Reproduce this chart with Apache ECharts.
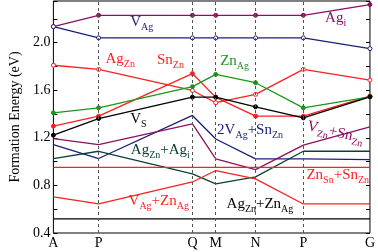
<!DOCTYPE html>
<html>
<head>
<meta charset="utf-8">
<script src="https://cdn.jsdelivr.net/npm/echarts@6/dist/echarts.min.js"></script>
<style>
  html, body { margin: 0; padding: 0; background: #fff; }
  #main { width: 378px; height: 252px; }
</style>
</head>
<body>
<div id="main"></div>
<script>
var myChart = echarts.init(document.getElementById('main'));

// k-path positions and their labels
var kpos = [0, 47.7, 146.7, 171.3, 213.3, 263.7, 334];
var knames = ['A', 'P', 'Q', 'M', 'N', 'P', 'G'];

// formation energies (eV) at each k point
var agI     = [2.135, 2.23, 2.23, 2.23, 2.23, 2.23, 2.32];
var vAg     = [2.135, 2.04, 2.04, 2.04, 2.04, 2.04, 1.95];
var agZn    = [1.81, 1.775, 1.598, 1.495, 1.565, 1.775, 1.685];
var snZn    = [1.298, 1.382, 1.74, 1.54, 1.382, 1.382, 1.55];
var znAg    = [1.41, 1.452, 1.63, 1.733, 1.663, 1.452, 1.545];
var vS      = [1.222, 1.362, 1.542, 1.542, 1.461, 1.368, 1.545];
var v2AgSn  = [1.143, 1.026, 1.388, 1.19, 1.023, 1.023, 1.017];
var vZnSn   = [1.194, 1.143, 1.318, 1.023, 0.933, 1.138, 1.293];
var agZnAgI = [1.026, 1.087, 0.897, 0.813, 0.872, 1.087, 1.087];
var znSnSn  = [0.952, 0.952, 0.952, 0.952, 0.952, 0.952, 0.952];
var vAgZnAg = [0.703, 0.644, 0.829, 0.925, 0.855, 0.644, 0.644];
var agZnZnAg = [0.518, 0.518, 0.518, 0.518, 0.518, 0.518, 0.518];

// label text and anchor in data units [x, y, color, rotation]
var labels = [
    ['{m|V}{s|Ag}', 81, 2.16, '#1b1f7a', 0],
    ['{m|Ag}{s|i}', 286.7, 2.196, '#8b1062', 0],
    ['{m|Ag}{s|Zn}', 55, 1.851, '#ff1f1f', 0],
    ['{m|Sn}{s|Zn}', 109.3, 1.845, '#ff1f1f', 0],
    ['{m|Zn}{s|Ag}', 176, 1.834, '#1a961a', 0],
    ['{m|V}{s|S}', 81, 1.345, '#000000', 0],
    ['{m|2V}{s|Ag}{m|+Sn}{s|Zn}', 172.7, 1.256, '#1b1f7a', 0],
    ['{m|V}{s|Zn}{m|+Sn}{s|Zn}', 267.7, 1.287, '#8b1062', 13],
    ['{m|Ag}{s|Zn}{m|+Ag}{s|i}', 81.7, 1.085, '#0d4035', 0],
    ['{m|Zn}{s|Sn}{m|+Sn}{s|Zn}', 267, 0.874, '#ff1f1f', 0],
    ['{m|V}{s|Ag}{m|+Zn}{s|Ag}', 79.3, 0.655, '#ff1f1f', 0],
    ['{m|Ag}{s|Zn}{m|+Zn}{s|Ag}', 182.7, 0.63, '#000000', 0]
];

function pairs(vals) {
    return vals.map(function (v, i) { return [kpos[i], v]; });
}

function makeLine(name, vals, color, marker, hollow) {
    return {
        name: name,
        type: 'line',
        data: pairs(vals),
        symbol: marker ? 'circle' : 'none',
        symbolSize: 4,
        showSymbol: !!marker,
        itemStyle: {
            color: hollow ? '#fff' : color,
            borderColor: color,
            borderWidth: 1
        },
        lineStyle: { color: color, width: 1.3 },
        animation: false,
        z: 3
    };
}

var serifFont = '"Liberation Serif", "DejaVu Serif", serif';

var series = [
    makeLine('Ag_i', agI, '#8b1062', true, false),
    makeLine('V_Ag', vAg, '#1b1f7a', true, true),
    makeLine('Ag_Zn', agZn, '#ff1f1f', true, true),
    makeLine('Sn_Zn', snZn, '#ff1f1f', true, false),
    makeLine('Zn_Ag', znAg, '#1a961a', true, false),
    makeLine('V_S', vS, '#000000', true, false),
    makeLine('2V_Ag+Sn_Zn', v2AgSn, '#1b1f7a', false),
    makeLine('V_Zn+Sn_Zn', vZnSn, '#8b1062', false),
    makeLine('Ag_Zn+Ag_i', agZnAgI, '#0d4035', false),
    makeLine('Zn_Sn+Sn_Zn', znSnSn, '#ff1f1f', false),
    makeLine('V_Ag+Zn_Ag', vAgZnAg, '#ff1f1f', false),
    makeLine('Ag_Zn+Zn_Ag', agZnZnAg, '#000000', false)
];

// dashed vertical lines at the inner k points
series[0].markLine = {
    silent: true,
    symbol: 'none',
    label: { show: false },
    lineStyle: { color: '#555', type: [3, 3], width: 1 },
    data: kpos.slice(1, 6).map(function (x) { return { xAxis: x }; })
};

var option = {
    backgroundColor: '#fff',
    animation: false,
    grid: {
        left: 39, right: 5, top: 1, bottom: 19,
        show: true, borderColor: '#000', borderWidth: 1,
        backgroundColor: 'transparent'
    },
    xAxis: {
        type: 'value',
        min: 0,
        max: 334,
        axisLine: { show: false },
        splitLine: { show: false },
        axisTick: { show: false },
        axisLabel: {
            customValues: kpos,
            formatter: function (v) {
                var i = kpos.indexOf(v);
                return i >= 0 ? knames[i] : '';
            },
            color: '#000',
            fontSize: 14,
            fontFamily: serifFont,
            margin: 3
        }
    },
    yAxis: [{
        type: 'value',
        min: 0.4,
        max: 2.35,
        interval: 0.2,
        name: 'Formation Energy (eV)',
        nameLocation: 'middle',
        nameGap: 26,
        nameTextStyle: { color: '#000', fontSize: 14, fontFamily: serifFont },
        axisLine: { show: false },
        splitLine: { show: false },
        axisTick: { show: true, inside: true, length: 4, lineStyle: { color: '#000' } },
        axisLabel: {
            color: '#000',
            fontSize: 14,
            fontFamily: serifFont,
            margin: 3,
            formatter: function (v) {
                var k = Math.round(v * 10);
                if (k % 4 !== 0 || k > 22) return '';
                return v.toFixed(1);
            }
        }
    }, {
        type: 'value',
        min: 0.4,
        max: 2.35,
        interval: 0.2,
        position: 'right',
        axisLine: { show: false },
        splitLine: { show: false },
        axisTick: { show: true, inside: true, length: 4, lineStyle: { color: '#000' } },
        axisLabel: { show: false }
    }],
    series: series
};

option && myChart.setOption(option);

// place the curve labels through the chart's own coordinate system
var graphics = labels.map(function (l) {
    var p = myChart.convertToPixel({ gridIndex: 0 }, [l[1], l[2]]);
    return {
        type: 'text',
        x: p[0],
        y: p[1],
        rotation: -l[4] * Math.PI / 180,
        z: 10,
        style: {
            text: l[0],
            fill: l[3],
            verticalAlign: 'middle',
            rich: {
                m: { fontSize: 15, fontFamily: serifFont, fill: l[3], lineHeight: 18, verticalAlign: 'top' },
                s: { fontSize: 10, fontFamily: serifFont, fill: l[3], lineHeight: 18, verticalAlign: 'bottom', padding: [9, 0, 0, 0] }
            }
        }
    };
});
myChart.setOption({ graphic: graphics });
</script>
</body>
</html>
